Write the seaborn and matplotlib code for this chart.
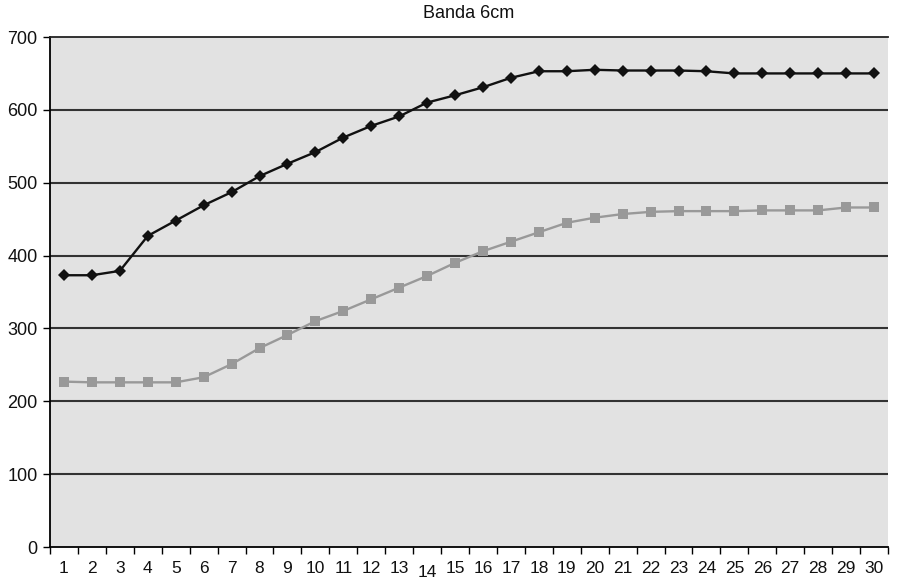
import numpy as np
import pandas as pd
import matplotlib
matplotlib.use("Agg")
import matplotlib.pyplot as plt
import matplotlib.transforms as mtransforms
import seaborn as sns

# Values along the 30 positions
posiciones = list(range(1, 31))
serie_superior = [373, 373, 379, 427, 448, 469, 487, 509, 526, 542,
                  562, 578, 591, 610, 620, 631, 644, 653, 653, 655,
                  654, 654, 654, 653, 650, 650, 650, 650, 650, 650]
serie_inferior = [227, 226, 226, 226, 226, 233, 251, 273, 291, 310,
                  324, 340, 356, 372, 390, 406, 419, 432, 445, 452,
                  457, 460, 461, 461, 461, 462, 462, 462, 466, 466]
etiquetas_x = [str(p) for p in posiciones]
titulo = "Banda 6cm"

df = pd.DataFrame({
    "pos": posiciones * 2,
    "valor": serie_superior + serie_inferior,
    "serie": ["superior"] * 30 + ["inferior"] * 30,
})

sns.set_theme(style="white")
plt.rcParams["font.family"] = ["Liberation Sans", "DejaVu Sans"]

fig = plt.figure(figsize=(8.98, 5.82), dpi=100)
ax = fig.add_axes([50 / 898, 1 - 547 / 582, 838 / 898, 510 / 582])
ax.set_facecolor("#e2e2e2")

sns.lineplot(data=df[df.serie == "inferior"], x="pos", y="valor", ax=ax,
             color="#999999", linewidth=1.7, marker="s", markersize=7,
             markeredgewidth=0, legend=False, zorder=3)
sns.lineplot(data=df[df.serie == "superior"], x="pos", y="valor", ax=ax,
             color="#111111", linewidth=1.7, marker="D", markersize=6.5,
             markeredgewidth=0, legend=False, zorder=4)

ax.set_xlim(0.54, 30.32)
ax.set_ylim(0, 700)

# Horizontal grid lines
ax.set_yticks(np.arange(0, 701, 100))
for yv in range(100, 700, 100):
    ax.axhline(yv, color="#333333", linewidth=1.5, zorder=1)

ax.tick_params(axis="y", which="both", left=True, length=5, width=1,
               color="black", labelsize=13, pad=4, labelcolor="#111111")

# Category ticks between positions, labels centred on each position
ax.set_xticks([p - 0.5 for p in posiciones] + [30.5])
ax.set_xticklabels([])
ax.set_xticks(posiciones, minor=True)
ax.set_xticklabels(etiquetas_x, minor=True)
ax.tick_params(axis="x", which="major", bottom=True, length=5, width=1,
               color="black")
ax.tick_params(axis="x", which="minor", bottom=False, length=0,
               labelsize=12.5, pad=10, labelcolor="#111111")
for lbl in ax.get_xticklabels(minor=True):
    if lbl.get_text() == "14":
        lbl.set_transform(lbl.get_transform() +
                          mtransforms.ScaledTranslation(0, -4 / 100, fig.dpi_scale_trans))

ax.set_xlabel("")
ax.set_ylabel("")

for side in ["left", "bottom"]:
    ax.spines[side].set_color("black")
    ax.spines[side].set_linewidth(1.3)
ax.spines["top"].set_color("#222222")
ax.spines["top"].set_linewidth(1.3)
ax.spines["right"].set_visible(False)

fig.text(469 / 898, 1 - 14 / 582, titulo, ha="center", va="center",
         fontsize=13, color="#111111")

fig.savefig("out.png", dpi=100)
